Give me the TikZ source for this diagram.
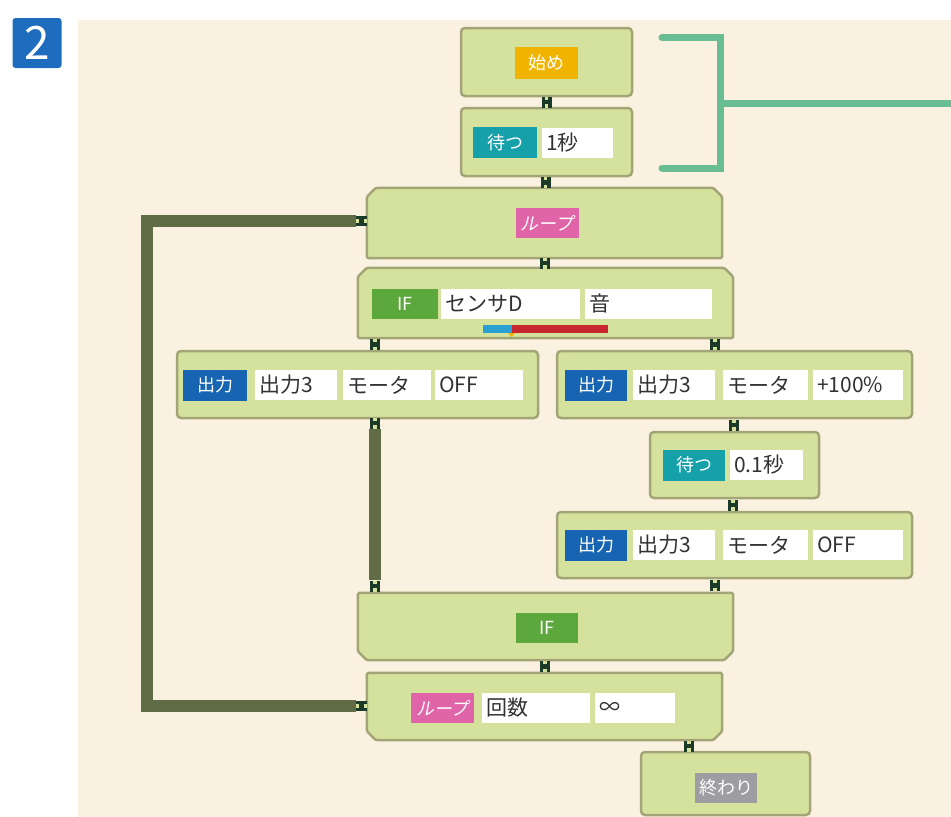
\documentclass[tikz,border=0pt]{standalone}
\usepackage{fontspec}
\setmainfont{Noto Sans CJK JP}
\newfontfamily\slantjp[FakeSlant=0.2]{Noto Sans CJK JP}
\usetikzlibrary{calc}
\definecolor{bgcream}{RGB}{250,241,224}
\definecolor{blkfill}{RGB}{213,226,158}
\definecolor{blkborder}{RGB}{163,165,118}
\definecolor{jdark}{RGB}{28,58,40}
\definecolor{olivel}{RGB}{96,108,70}
\definecolor{brgreen}{RGB}{104,190,146}
\definecolor{cyel}{RGB}{240,180,0}
\definecolor{cteal}{RGB}{22,160,170}
\definecolor{cpink}{RGB}{224,100,168}
\definecolor{cifg}{RGB}{92,168,60}
\definecolor{cblue}{RGB}{22,100,178}
\definecolor{cgray}{RGB}{158,158,162}
\definecolor{cbadge}{RGB}{30,108,190}
\definecolor{cred}{RGB}{200,40,45}
\definecolor{csky}{RGB}{40,160,210}
\definecolor{ftext}{RGB}{50,50,50}
\newcommand\chamtop[1]{%
  \draw[blkline] ($(#1.north west)+(9,0)$) -- ($(#1.north east)+(-9,0)$) -- ($(#1.north east)+(0,9)$) -- (#1.south east) -- (#1.south west) -- ($(#1.north west)+(0,9)$) -- cycle;}
\newcommand\chambot[1]{%
  \draw[blkline] (#1.north west) -- (#1.north east) -- ($(#1.south east)+(0,-9)$) -- ($(#1.south east)+(-9,0)$) -- ($(#1.south west)+(9,0)$) -- ($(#1.south west)+(0,-9)$) -- cycle;}
\begin{document}
\begin{tikzpicture}[x=1pt,y=-1pt,
  blk/.style={draw=blkborder, fill=blkfill, line width=2.5pt, rounded corners=4pt, inner sep=0pt},
  blkline/.style={draw=blkborder, fill=blkfill, line width=2.5pt, rounded corners=1.5pt, line join=round},
  ghost/.style={inner sep=0pt, draw=none},
  lab/.style={fill=#1, text=white, inner sep=0pt, minimum height=30pt, font=\fontsize{18}{18}\selectfont},
  fld/.style={fill=white, inner xsep=4pt, inner ysep=0pt, minimum height=30pt, text width=#1, align=left, anchor=west, text=ftext, font=\fontsize{21}{21}\selectfont},
  jn/.style={rectangle, fill=jdark, minimum width=10pt, minimum height=11pt, inner sep=0pt,
    path picture={
      \fill[blkfill] ($(path picture bounding box.north)+(-1.7,0)$) rectangle ++(3.4,3.2);
      \fill[blkfill] ($(path picture bounding box.south)+(-1.7,0)$) rectangle ++(3.4,-3.2);
    }},
  jns/.style={rectangle, fill=jdark, minimum width=11pt, minimum height=10pt, inner sep=0pt,
    path picture={
      \fill[blkfill] ($(path picture bounding box.west)+(0,-1.7)$) rectangle ++(3.2,3.4);
      \fill[blkfill] ($(path picture bounding box.east)+(0,-1.7)$) rectangle ++(-3.2,3.4);
    }},
  oliveline/.style={draw=olivel, line width=12pt, line join=miter},
  bracket/.style={draw=brgreen, line width=7pt, line join=miter}
]
\useasboundingbox (0,0) rectangle (951,817);
\fill[white] (0,0) rectangle (951,817);
\fill[bgcream] (78,20) rectangle (951,817);

% badge
\node[fill=cbadge, rounded corners=3pt, minimum width=49pt, minimum height=50pt, inner sep=0pt, text=white, font=\fontsize{46}{46}\selectfont] (badge) at (37,43) {2};

% bracket
\draw[bracket, line cap=round] (662,37.5) -- (720,37.5) -- (720,168) -- (662,168);
\draw[bracket] (720,103) -- (951,103);

% start
\node[blk, minimum width=171pt, minimum height=68pt] (b1) at (546.5,62) {};
\node[lab=cyel, minimum width=63pt, minimum height=32pt] (l1) at (546,63) {始め};

\node[blk, minimum width=171pt, minimum height=68pt] (b2) at (546.5,142) {};
\node[lab=cteal, minimum width=64pt, minimum height=31pt] (l2) at (505,142.5) {待つ};
\node[fld=63pt] (f2) at (542,142.5) {1秒};

\node[jn] (j1) at ($(b1.south)!0.5!(b2.north)$) {};

% loop start
\node[ghost, minimum width=355pt, minimum height=70pt] (b3) at (544.5,223) {};
\chamtop{b3}
\node[lab=cpink, minimum width=63pt] (l3) at (547,223) {\slantjp ループ};
\node[jn] (j2) at ($(b2.south)!0.5!(b3.north)$) {};

% IF start
\node[ghost, minimum width=375pt, minimum height=70pt] (b4) at (545.5,303) {};
\chamtop{b4}
\node[lab=cifg, minimum width=66pt] (l4) at (405,304) {IF};
\node[fld=131pt] (f4a) at (441,304) {センサD};
\node[fld=119pt] (f4b) at (585,304) {音};
\fill[csky] (483,325) rectangle (512,333);
\fill[cred] (512,325) rectangle (608,333);
\fill[cyel] (508,333) -- (515,333) -- (511.5,337) -- cycle;
\node[jn] (j3) at ($(b3.south)!0.5!(b4.north)$) {};

% left branch
\node[blk, minimum width=361pt, minimum height=67pt] (b5) at (357.5,384.5) {};
\node[lab=cblue, minimum width=64pt, minimum height=31pt] (l5) at (215,385) {出力};
\node[fld=74pt] (f5a) at (255,385) {出力3};
\node[fld=80pt] (f5b) at (343,385) {モータ};
\node[fld=80pt] (f5c) at (435,385) {OFF};
\node[jn] (j4) at (375,344.5) {};

% right branch
\node[blk, minimum width=355pt, minimum height=67pt] (b6) at (734.5,384.5) {};
\node[lab=cblue, minimum width=62pt, minimum height=31pt] (l6) at (596,385) {出力};
\node[fld=74pt] (f6a) at (633,385) {出力3};
\node[fld=77pt] (f6b) at (723,385) {モータ};
\node[fld=82pt] (f6c) at (813,385) {+100\%};
\node[jn] (j5) at (715,344.5) {};

\node[blk, minimum width=169pt, minimum height=66pt] (b7) at (734.5,465) {};
\node[lab=cteal, minimum width=62pt, minimum height=31pt] (l7) at (694,465) {待つ};
\node[fld=65pt] (f7) at (730,465) {0.1秒};
\node[jn] (j8) at (734,425) {};

\node[blk, minimum width=355pt, minimum height=66pt] (b8) at (734.5,545) {};
\node[lab=cblue, minimum width=62pt, minimum height=31pt] (l8) at (596,545) {出力};
\node[fld=74pt] (f8a) at (633,545) {出力3};
\node[fld=77pt] (f8b) at (723,545) {モータ};
\node[fld=82pt] (f8c) at (813,545) {OFF};
\node[jn] (j9) at (733,505) {};

% IF end
\node[ghost, minimum width=375pt, minimum height=67pt] (b9) at (545.5,626.5) {};
\chambot{b9}
\node[lab=cifg, minimum width=62pt] (l9) at (547,628) {IF};
\node[jn] (j10) at (715,585.5) {};
\node[jn] (j6) at (375,423) {};
\node[jn] (j7) at (375,586) {};
\draw[oliveline] (j6.south) -- (j7.north);

% loop end
\node[ghost, minimum width=355pt, minimum height=67pt] (b10) at (544.5,706.5) {};
\chambot{b10}
\node[lab=cpink, minimum width=63pt] (l10) at (442.5,708) {\slantjp ループ};
\node[fld=100pt] (f10a) at (482,708) {回数};
\node[fld=72pt] (f10b) at (595,708) {∞};
\node[jn] (j11) at ($(b9.south)!0.5!(b10.north)$) {};

% loop return line
\node[jns] (j13) at (361.5,221) {};
\node[jns] (j14) at (361.5,706) {};
\draw[oliveline] (j13.west) -- ++(-209,0) |- (j14.west);

% end
\node[blk, minimum width=169pt, minimum height=63pt] (b11) at (725.5,783.5) {};
\node[lab=cgray, minimum width=62pt] (l11) at (726,788) {終わり};
\node[jn] (j12) at (689,746) {};
\end{tikzpicture}
\end{document}
